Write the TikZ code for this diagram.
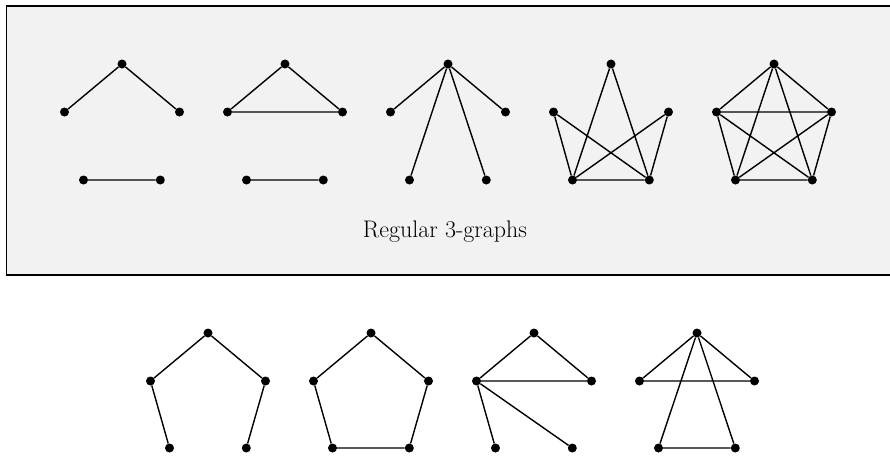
\documentclass[tikz,border=0pt]{standalone}
\begin{document}
\begin{tikzpicture}[x=1pt,y=-1pt,
  dot/.style={circle,fill=black,inner sep=0pt,minimum size=9pt},
  edge/.style={line width=1.4pt,black},
  framebox/.style={line width=1.5pt,draw=black,fill=black!5}]
\useasboundingbox (0,0) rectangle (890,456);
\clip (0,0) rectangle (890,456);
\newcommand\pentnodes[5]{%
  \node[dot] (#1t) at (#2,#3) {};
  \node[dot] (#1l) at ({#2-57.5},#4) {};
  \node[dot] (#1r) at ({#2+57.5},#4) {};
  \node[dot] (#1a) at ({#2-38.5},#5) {};
  \node[dot] (#1b) at ({#2+38.3},#5) {};}
\draw[framebox] (6.5,6) rectangle (900,275);
\node[font=\fontsize{24}{29}\selectfont,anchor=base] (lbl) at (445,237) {Regular 3-graphs};
% top row
\pentnodes{p}{122}{64}{112}{180}
\pentnodes{q}{285}{64}{112}{180}
\pentnodes{s}{448}{64}{112}{180}
\pentnodes{u}{611}{64}{112}{180}
\pentnodes{v}{774}{64}{112}{180}
% bottom row
\pentnodes{A}{208}{333}{381}{448}
\pentnodes{B}{371}{333}{381}{448}
\pentnodes{C}{534}{333}{381}{448}
\pentnodes{D}{697}{333}{381}{448}
\begin{scope}[edge]
\draw (pt)--(pl) (pt)--(pr) (pa)--(pb);
\draw (qt)--(ql) (qt)--(qr) (ql)--(qr) (qa)--(qb);
\draw (st)--(sl) (st)--(sr) (st)--(sa) (st)--(sb);
\draw (ut)--(ua) (ut)--(ub) (ul)--(ua) (ul)--(ub) (ur)--(ua) (ur)--(ub) (ua)--(ub);
\draw (vt)--(vl) (vt)--(vr) (vt)--(va) (vt)--(vb) (vl)--(vr) (vl)--(va) (vl)--(vb) (vr)--(va) (vr)--(vb) (va)--(vb);
\draw (At)--(Al) (At)--(Ar) (Al)--(Aa) (Ar)--(Ab);
\draw (Bt)--(Bl) (Bt)--(Br) (Bl)--(Ba) (Br)--(Bb) (Ba)--(Bb);
\draw (Ct)--(Cl) (Ct)--(Cr) (Cl)--(Cr) (Cl)--(Ca) (Cl)--(Cb);
\draw (Dt)--(Dl) (Dt)--(Dr) (Dl)--(Dr) (Dt)--(Da) (Dt)--(Db) (Da)--(Db);
\end{scope}
\end{tikzpicture}
\end{document}
